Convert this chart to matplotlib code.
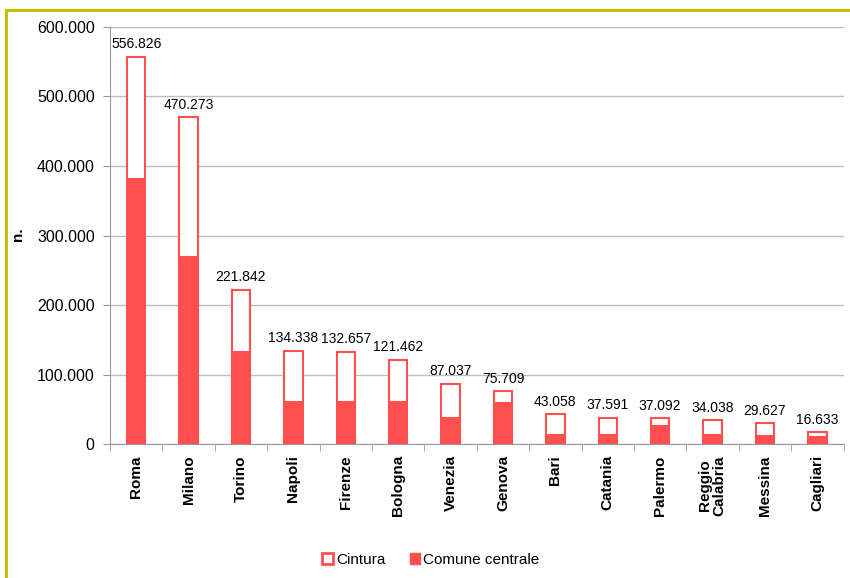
import numpy as np
from matplotlib import pyplot as plt
from matplotlib.patches import Rectangle, Patch

plt.rcParams['font.family'] = ['Liberation Sans', 'DejaVu Sans']

citta = ['Roma', 'Milano', 'Torino', 'Napoli', 'Firenze', 'Bologna', 'Venezia',
         'Genova', 'Bari', 'Catania', 'Palermo', 'Reggio\nCalabria', 'Messina', 'Cagliari']
totale = [556826, 470273, 221842, 134338, 132657, 121462, 87037,
          75709, 43058, 37591, 37092, 34038, 29627, 16633]
comune_centrale = [382000, 269000, 133000, 60000, 60000, 60000, 37500,
                   58500, 12500, 13000, 26000, 12500, 11500, 10500]
cintura = [t - c for t, c in zip(totale, comune_centrale)]

rosso = '#FF4F4F'
fig = plt.figure(figsize=(8.5, 5.78), dpi=100)
ax = fig.add_axes([0.1294, 0.2318, 0.863, 0.7215])

x = np.arange(len(citta))
w = 0.35
ax.bar(x, comune_centrale, w, color=rosso, edgecolor=rosso, linewidth=1.5, zorder=3)
ax.bar(x, cintura, w, bottom=comune_centrale, color='white', edgecolor=rosso,
       linewidth=1.5, zorder=3)

for xi, t in zip(x, totale):
    ax.annotate(f'{t:,}'.replace(',', '.'), (xi, t), xytext=(0, 4),
                textcoords='offset points', ha='center', va='bottom', fontsize=10)

ax.set_ylim(0, 600000)
ax.set_xlim(-0.5, len(citta) - 0.5)
yt = np.arange(0, 600001, 100000)
ax.set_yticks(yt)
ax.set_yticklabels([f'{v:,}'.replace(',', '.') for v in yt], fontsize=11.5)
ax.yaxis.grid(True, color='#BEBEBE', linewidth=1, zorder=0)
ax.set_xticks(x)
ax.set_xticklabels(citta, rotation=90, fontsize=11, fontweight='bold', linespacing=1.05)
ax.set_xticks(np.arange(-0.5, len(citta), 1), minor=True)
ax.tick_params(axis='x', which='major', length=0, pad=8)
ax.tick_params(axis='x', which='minor', length=5, color='#999999')
ax.tick_params(axis='y', length=5, color='#999999', pad=6)
for s in ['top', 'right']:
    ax.spines[s].set_visible(False)
for s in ['left', 'bottom']:
    ax.spines[s].set_color('#999999')

fig.text(0.021, 0.594, 'n.', rotation=90, fontsize=11, fontweight='bold',
         ha='center', va='center')

handles = [Patch(facecolor='white', edgecolor=rosso, linewidth=2),
           Patch(facecolor=rosso, edgecolor=rosso)]
fig.legend(handles, ['Cintura', 'Comune centrale'], loc='center',
           bbox_to_anchor=(0.507, 0.031), ncol=2, frameon=False, fontsize=11,
           handlelength=0.7, handleheight=0.7, handletextpad=0.2, columnspacing=1.6)

# cornice del grafico
fig.patches.append(Rectangle((6 / 850, -0.1), 1.2, 1 - 10 / 578 + 0.1,
                             transform=fig.transFigure, fill=False,
                             edgecolor='#C8BE00', linewidth=2.2))

fig.savefig('out.png', dpi=100)
